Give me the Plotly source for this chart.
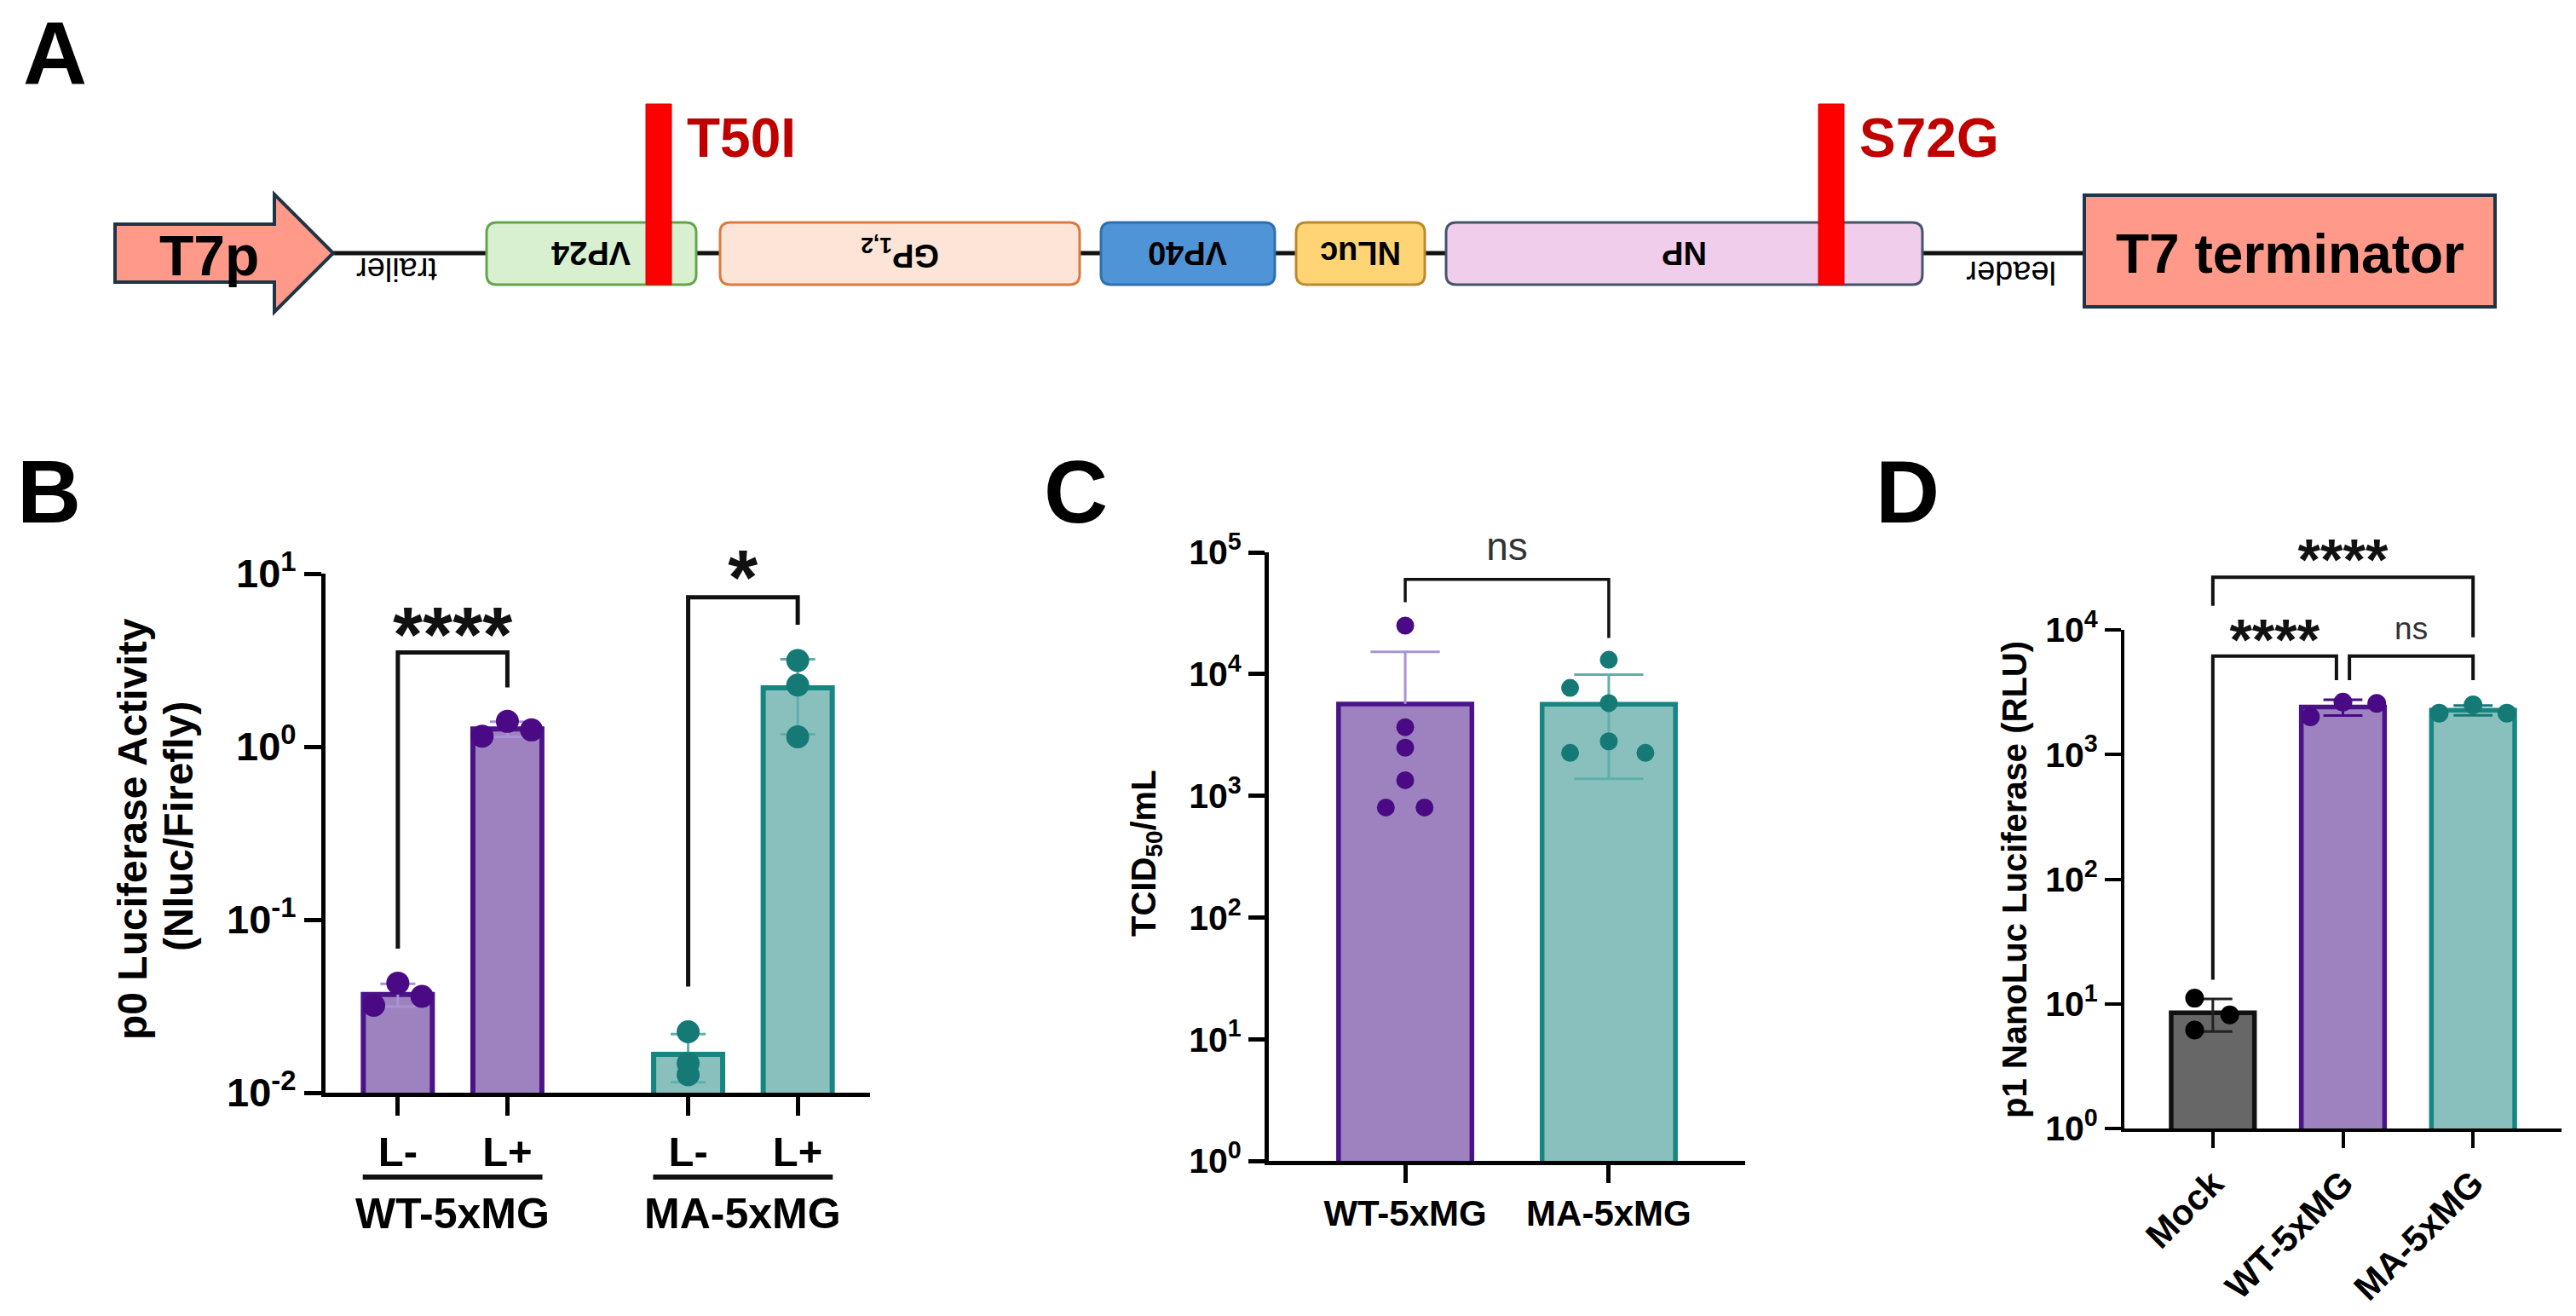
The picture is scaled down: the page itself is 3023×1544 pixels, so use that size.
import numpy as np
import plotly.graph_objects as go

W, H = 3023, 1544
FONT = "Liberation Sans, Arial, sans-serif"

# ======================= DATA =======================
# Panel A - genome map (positions along the drawn genome)
gene_labels = ["VP24", "GP<sub>1,2</sub>", "VP40", "NLuc", "NP"]
gene_start = [571, 845, 1292, 1521, 1697]
gene_end = [817, 1267, 1496, 1672, 2256]
mutation_labels = ["T50I", "S72G"]
mutation_site = [773, 2149]

# Panel B - p0 luciferase activity (Nluc/Firefly)
b_groups = ["WT-5xMG", "MA-5xMG"]
b_conditions = ["L-", "L+"]
b_wt_lminus = [0.032, 0.043, 0.036]
b_wt_lplus = [1.15, 1.40, 1.25]
b_ma_lminus = [0.0225, 0.0148, 0.0127]
b_ma_lplus = [3.15, 2.27, 1.14]
b_sig_labels = ["****", "*"]
b_sig_pairs = [(0, 1), (2, 3)]
b_sig_top = [3.5, 7.3]
b_sig_left_end = [0.068, 0.041]
b_sig_right_end = [2.2, 5.06]
b_sig_text_y = [4.0, 8.6]
b_ticks = [0.01, 0.1, 1, 10]
b_ticktext = ["10<sup>-2</sup>", "10<sup>-1</sup>", "10<sup>0</sup>", "10<sup>1</sup>"]

# Panel C - TCID50/mL
c_categories = ["WT-5xMG", "MA-5xMG"]
c_wt = [25000, 3660, 2480, 1340, 800, 800]
c_ma = [13100, 7690, 5770, 2800, 2250, 2250]
c_sig_labels = ["ns"]
c_sig_pairs = [(0, 1)]
c_sig_top = [60000]
c_sig_left_end = [39000]
c_sig_right_end = [19800]
c_sig_text_y = [104000]
c_ticks = [1, 10, 100, 1e3, 1e4, 1e5]
c_ticktext = ["10<sup>0</sup>", "10<sup>1</sup>", "10<sup>2</sup>", "10<sup>3</sup>",
              "10<sup>4</sup>", "10<sup>5</sup>"]

# Panel D - p1 NanoLuc luciferase (RLU)
d_categories = ["Mock", "WT-5xMG", "MA-5xMG"]
d_mock = [11.1, 8.16, 6.16]
d_wt = [2630, 2570, 2005]
d_ma = [2500, 2150, 2150]
d_sig_labels = ["****", "ns", "****"]
d_sig_pairs = [(0, 1), (1, 2), (0, 2)]
d_sig_top = [6170, 6170, 26400]
d_sig_left_end = [15.6, 3950, 15600]
d_sig_right_end = [3950, 3950, 8730]
d_sig_text_y = [7530, 9700, 33300]
d_ticks = [1, 10, 100, 1e3, 1e4]
d_ticktext = ["10<sup>0</sup>", "10<sup>1</sup>", "10<sup>2</sup>", "10<sup>3</sup>", "10<sup>4</sup>"]

# ======================= STYLE =======================
PUR_FILL, PUR_EDGE, PUR_DOT, PUR_ERR = "#9d82bf", "#4a1488", "#4a0a85", "#a992d3"
TEA_FILL, TEA_EDGE, TEA_DOT, TEA_ERR = "#89c0bd", "#178581", "#157a76", "#5db0ab"
GRY_FILL, GRY_EDGE, GRY_DOT, GRY_ERR = "#676767", "#111111", "#000000", "#222222"

gene_fill = ["#d8f0cf", "#fce4d6", "#4f94d6", "#ffd474", "#f1cdec"]
gene_edge = ["#62a64c", "#d97b40", "#2f6fb0", "#bb8a2e", "#44546a"]

# panel frames (pixel positions of the axes)
B_X, B_Y = (382, 1021), (673, 1282)
C_X, C_Y = (1489, 2048), (648, 1362)
D_X, D_Y = (2493, 3006), (739, 1324)
HEADROOM = 0.12


def PX(x):
    return x / W


def PY(y):
    return 1 - y / H


fig = go.Figure()


def add_text(x, y, s, size, color="black", bold=True, angle=0, xanchor="center",
             yanchor="middle", xref="paper"):
    fig.add_annotation(x=x if xref != "paper" else PX(x), y=PY(y), xref=xref, yref="paper",
                       text=s, showarrow=False, textangle=angle, xanchor=xanchor,
                       yanchor=yanchor,
                       font=dict(family=FONT, size=size, color=color,
                                 weight="bold" if bold else "normal"))


def add_bars(xs, samples, fills, edges, errs, dots, offsets, xa, ya, width, lw,
             capw, msize, errw):
    for x, vals, fc, ec, erc, dc, off in zip(xs, samples, fills, edges, errs, dots, offsets):
        v = np.array(vals, dtype=float)
        m = v.mean()
        sd = v.std(ddof=1)
        fig.add_trace(go.Bar(x=[x], y=[m], width=width, xaxis=xa, yaxis=ya,
                             marker=dict(color=fc, line=dict(color=ec, width=lw)),
                             hoverinfo="skip"))
        hi, lo = m + sd, m - sd
        ex = [x, x, None, x - capw, x + capw]
        ey = [lo if lo > 0 else m, hi, None, hi, hi]
        if lo > 0:
            ex += [None, x - capw, x + capw]
            ey += [None, lo, lo]
        fig.add_trace(go.Scatter(x=ex, y=ey, mode="lines", xaxis=xa, yaxis=ya,
                                 line=dict(color=erc, width=errw), hoverinfo="skip",
                                 cliponaxis=False))
        fig.add_trace(go.Scatter(x=[x + o for o in off], y=v, mode="markers",
                                 xaxis=xa, yaxis=ya, cliponaxis=False,
                                 marker=dict(color=dc, size=msize, line=dict(width=0)),
                                 hoverinfo="skip"))


def add_brackets(xs, pairs, labels, tops, lefts, rights, texty, xa, ya, lw, star_size,
                 ns_size, insets=None):
    for k, (i, j) in enumerate(pairs):
        li, ri = (insets[k] if insets else (0, 0))
        x0, x1 = xs[i] + li, xs[j] - ri
        fig.add_trace(go.Scatter(x=[x0, x0, x1, x1], y=[lefts[k], tops[k], tops[k], rights[k]],
                                 mode="lines", xaxis=xa, yaxis=ya, cliponaxis=False,
                                 line=dict(color="#111111", width=lw), hoverinfo="skip"))
        is_ns = labels[k] == "ns"
        fig.add_trace(go.Scatter(x=[(x0 + x1) / 2], y=[texty[k]], mode="text", text=[labels[k]],
                                 xaxis=xa, yaxis=ya, cliponaxis=False, hoverinfo="skip",
                                 textfont=dict(family=FONT,
                                               size=ns_size if is_ns else star_size,
                                               color="#333333" if is_ns else "#111111",
                                               weight="normal" if is_ns else "bold")))


# ======================= PANEL A =======================
LINE_Y = 297
fig.add_shape(type="line", xref="paper", yref="paper", x0=PX(389), x1=PX(2446),
              y0=PY(LINE_Y), y1=PY(LINE_Y), line=dict(color="#111111", width=5))

arrow = [(135, 263), (322, 263), (322, 228), (391, LINE_Y), (322, 366), (322, 331), (135, 331)]
path = "M " + " L ".join(f"{PX(a):.5f},{PY(b):.5f}" for a, b in arrow) + " Z"
fig.add_shape(type="path", path=path, xref="paper", yref="paper", fillcolor="#ff9a8a",
              line=dict(color="#1f3445", width=4))
add_text(245, 300, "T7p", 66)


def rrect(x0, y0, x1, y1, r):
    return (f"M {PX(x0 + r)},{PY(y0)} L {PX(x1 - r)},{PY(y0)} Q {PX(x1)},{PY(y0)} {PX(x1)},{PY(y0 + r)} "
            f"L {PX(x1)},{PY(y1 - r)} Q {PX(x1)},{PY(y1)} {PX(x1 - r)},{PY(y1)} "
            f"L {PX(x0 + r)},{PY(y1)} Q {PX(x0)},{PY(y1)} {PX(x0)},{PY(y1 - r)} "
            f"L {PX(x0)},{PY(y0 + r)} Q {PX(x0)},{PY(y0)} {PX(x0 + r)},{PY(y0)} Z")


for lab, s, e, fc, ec in zip(gene_labels, gene_start, gene_end, gene_fill, gene_edge):
    fig.add_shape(type="path", path=rrect(s, 261, e, 334, 12), xref="paper", yref="paper",
                  fillcolor=fc, line=dict(color=ec, width=3))
    add_text((s + e) / 2, 297, lab, 38, angle=180)

add_text(466, 316, "trailer", 38, bold=False, angle=180)
add_text(2360, 320, "leader", 38, bold=False, angle=180)

# T7 terminator
fig.add_shape(type="rect", xref="paper", yref="paper", x0=PX(2446), x1=PX(2928),
              y0=PY(229), y1=PY(360), fillcolor="#ff9a8a", line=dict(color="#1f3445", width=4))
add_text(2687, 298, "T7 terminator", 64)

for lab, site in zip(mutation_labels, mutation_site):
    fig.add_shape(type="rect", xref="paper", yref="paper", x0=PX(site - 15), x1=PX(site + 15),
                  y0=PY(122), y1=PY(334), fillcolor="#ff0000", line=dict(color="#d40000", width=1))
    add_text(site + 31, 162, lab, 64, color="#c00000", xanchor="left")

# panel letters
add_text(64, 62, "A", 104)
add_text(58, 577, "B", 104)
add_text(1262, 577, "C", 104)
add_text(2238, 577, "D", 104)

# ======================= PANEL B =======================
B_STEP = 2.65
b_x = [g * B_STEP + c for g in range(len(b_groups)) for c in range(len(b_conditions))]
b_samples = [b_wt_lminus, b_wt_lplus, b_ma_lminus, b_ma_lplus]
add_bars(b_x, b_samples,
         [PUR_FILL, PUR_FILL, TEA_FILL, TEA_FILL], [PUR_EDGE, PUR_EDGE, TEA_EDGE, TEA_EDGE],
         [PUR_ERR, PUR_ERR, TEA_ERR, TEA_ERR], [PUR_DOT, PUR_DOT, TEA_DOT, TEA_DOT],
         [[-0.22, 0, 0.22], [-0.23, 0, 0.22], [0, 0, 0], [0, 0, 0]],
         "x", "y", 0.63, 6, 0.16, 27, 3)
add_brackets(b_x, b_sig_pairs, b_sig_labels, b_sig_top, b_sig_left_end, b_sig_right_end,
             b_sig_text_y, "x4", "y4", 5, 90, 46)
for g, name in enumerate(b_groups):
    fig.add_shape(type="line", xref="x", yref="paper", x0=g * B_STEP - 0.32, x1=g * B_STEP + 1.32,
                  y0=PY(1381), y1=PY(1381), line=dict(color="#111111", width=6))
    add_text(g * B_STEP + 0.5, 1424, name, 50, xref="x")

add_text(155, 973, "p0 Luciferase Activity", 48, angle=-90)
add_text(209, 970, "(Nluc/Firefly)", 48, angle=-90)

# ======================= PANEL C =======================
c_x = list(range(len(c_categories)))
add_bars(c_x, [c_wt, c_ma], [PUR_FILL, TEA_FILL], [PUR_EDGE, TEA_EDGE], [PUR_ERR, TEA_ERR],
         [PUR_DOT, TEA_DOT],
         [[0, 0, 0, 0, -0.095, 0.095], [0, -0.19, 0, 0, -0.19, 0.18]],
         "x2", "y2", 0.655, 5.5, 0.17, 21, 3)
add_brackets(c_x, c_sig_pairs, c_sig_labels, c_sig_top, c_sig_left_end, c_sig_right_end,
             c_sig_text_y, "x5", "y5", 3.5, 66, 46)
add_text(1345, 1001, "TCID<sub>50</sub>/mL", 40, angle=-90)

# ======================= PANEL D =======================
d_x = list(range(len(d_categories)))
add_bars(d_x, [d_mock, d_wt, d_ma], [GRY_FILL, PUR_FILL, TEA_FILL], [GRY_EDGE, PUR_EDGE, TEA_EDGE],
         [GRY_ERR, PUR_DOT, TEA_DOT], [GRY_DOT, PUR_DOT, TEA_DOT],
         [[-0.14, 0.13, -0.14], [0, 0.26, -0.25], [0, -0.26, 0.26]],
         "x3", "y3", 0.64, 5.5, 0.15, 22, 3)
add_brackets(d_x, d_sig_pairs, d_sig_labels, d_sig_top, d_sig_left_end, d_sig_right_end,
             d_sig_text_y, "x6", "y6", 4, 68, 37,
             insets=[(0, 0.05), (0.05, 0), (0, 0)])
add_text(2364, 1032, "p1 NanoLuc Luciferase (RLU)", 40, angle=-90)


# ======================= AXES =======================
def xcfg(px, rng, tickvals, ticktext, fsize, lw, ticklen, anchor, angle=0):
    return dict(domain=[PX(px[0]), PX(px[1])], range=rng, tickvals=tickvals, ticktext=ticktext,
                anchor=anchor, tickangle=angle, automargin=False,
                tickfont=dict(family=FONT, size=fsize, color="black", weight="bold"),
                showline=True, linecolor="black", linewidth=lw, ticks="outside",
                ticklen=ticklen, tickwidth=lw, tickcolor="black", showgrid=False,
                zeroline=False, fixedrange=True)


def ycfg(py, rng, tickvals, ticktext, fsize, lw, ticklen, anchor):
    return dict(domain=[PY(py[1]), PY(py[0])], type="log", range=rng, tickvals=tickvals,
                ticktext=ticktext, anchor=anchor, automargin=False,
                tickfont=dict(family=FONT, size=fsize, color="black", weight="bold"),
                showline=True, linecolor="black", linewidth=lw, ticks="outside",
                ticklen=ticklen, tickwidth=lw, tickcolor="black", showgrid=False,
                zeroline=False, fixedrange=True)


def overlay_x(px, rng, anchor):
    return dict(domain=[PX(px[0]), PX(px[1])], range=rng, visible=False, anchor=anchor,
                automargin=False, fixedrange=True)


def overlay_y(py, rng, anchor):
    d0, d1 = PY(py[1]), PY(py[0])
    d1e = min(1.0, d1 + HEADROOM)
    r1e = rng[0] + (rng[1] - rng[0]) * (d1e - d0) / (d1 - d0)
    return dict(domain=[d0, d1e], type="log", range=[rng[0], r1e], visible=False,
                anchor=anchor, automargin=False, fixedrange=True)


B_XR, B_YR = [-0.66, 4.31], [-2, 1]
C_XR, C_YR = [-0.67, 1.67], [0, 5]
D_XR, D_YR = [-0.68, 2.68], [0, 4]

fig.update_layout(
    template="none",
    width=W, height=H, margin=dict(l=0, r=0, t=0, b=0, pad=0, autoexpand=False),
    paper_bgcolor="white", plot_bgcolor="rgba(0,0,0,0)",
    showlegend=False, barmode="overlay",
    xaxis=xcfg(B_X, B_XR, b_x, b_conditions * len(b_groups), 49, 5, 22, "y"),
    yaxis=ycfg(B_Y, B_YR, b_ticks, b_ticktext, 47, 5, 20, "x"),
    xaxis2=xcfg(C_X, C_XR, c_x, c_categories, 42, 5, 21, "y2"),
    yaxis2=ycfg(C_Y, C_YR, c_ticks, c_ticktext, 41, 5, 19, "x2"),
    xaxis3=xcfg(D_X, D_XR, d_x, d_categories, 42, 4, 19, "y3", angle=-45),
    yaxis3=ycfg(D_Y, D_YR, d_ticks, d_ticktext, 41, 4, 19, "x3"),
    xaxis4=overlay_x(B_X, B_XR, "y4"), yaxis4=overlay_y(B_Y, B_YR, "x4"),
    xaxis5=overlay_x(C_X, C_XR, "y5"), yaxis5=overlay_y(C_Y, C_YR, "x5"),
    xaxis6=overlay_x(D_X, D_XR, "y6"), yaxis6=overlay_y(D_Y, D_YR, "x6"),
)

fig.write_html("out.html", config={"displayModeBar": False, "staticPlot": True},
               post_script="document.body.style.margin='0px';document.body.style.overflow='hidden';")
